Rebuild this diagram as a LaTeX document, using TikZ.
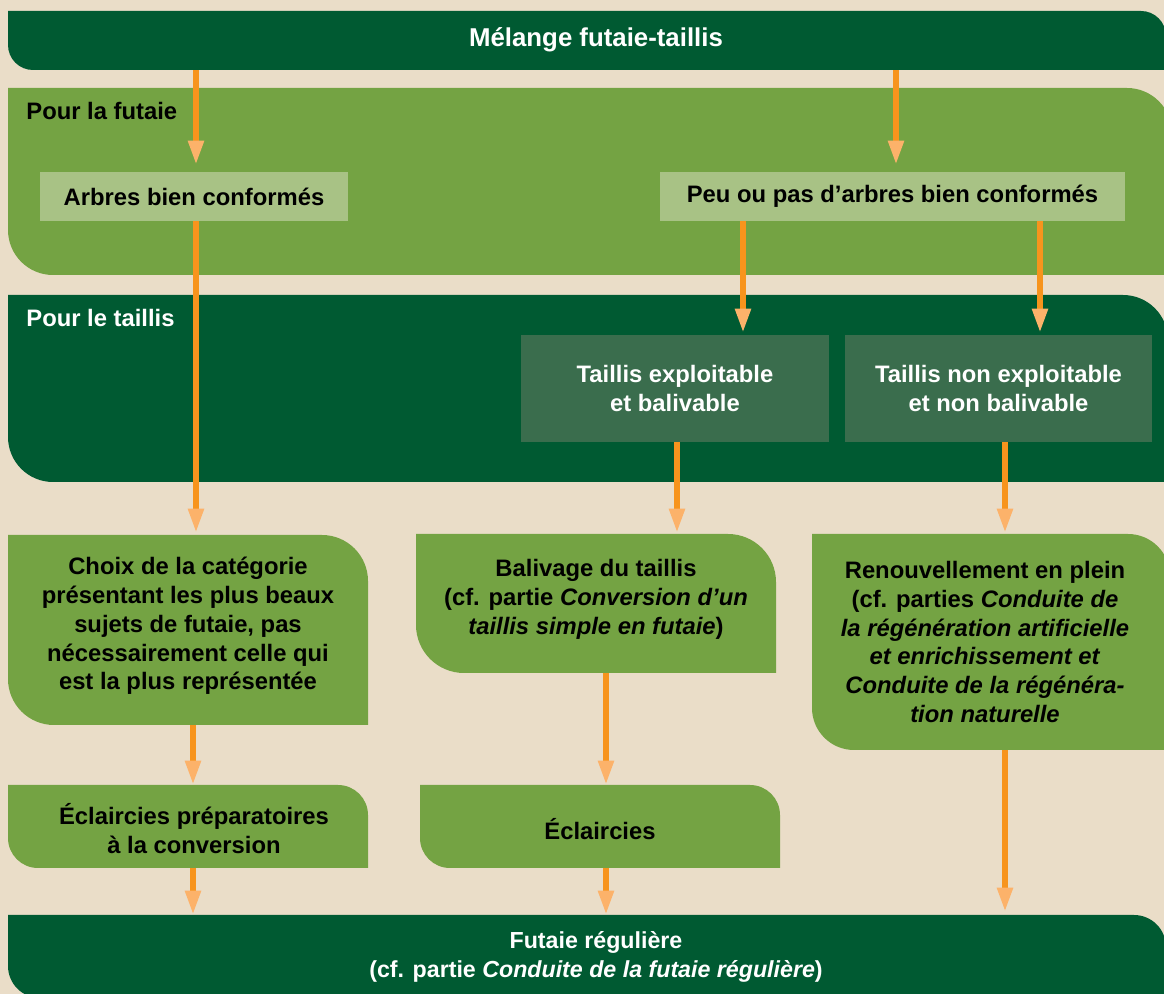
\documentclass[tikz,border=0pt]{standalone}
\usepackage{fontspec}
\setmainfont{Liberation Sans}
\usetikzlibrary{arrows.meta,fit}
\definecolor{bgc}{HTML}{EADDC8}
\definecolor{dkg}{HTML}{005A32}
\definecolor{mdg}{HTML}{74A343}
\definecolor{ltg}{HTML}{A8C285}
\definecolor{ing}{HTML}{3A6D4D}
\definecolor{org}{HTML}{F7941D}
\definecolor{orl}{HTML}{FCB26A}
\tikzset{
  cut/.style 2 args={inner sep=0pt, align=center, path picture={
    \fill[#1] (path picture bounding box.north west)
      -- ([xshift=-#2]path picture bounding box.north east)
      .. controls +(0.552*#2,0pt) and +(0pt,0.552*#2) .. ([yshift=-#2]path picture bounding box.north east)
      -- (path picture bounding box.south east)
      -- ([xshift=#2]path picture bounding box.south west)
      .. controls +(-0.552*#2,0pt) and +(0pt,-0.552*#2) .. ([yshift=#2]path picture bounding box.south west)
      -- cycle;}},
  plain/.style={inner sep=0pt, align=center, fill=#1},
  txt/.style={font=\bfseries\fontsize{11.9pt}{14.4pt}\selectfont},
  wt/.style={txt, text=white},
  bt/.style={txt, text=black},
  arr/.style={draw=org, line width=2.7pt, -{Triangle[length=12pt,width=7.5pt,color=orl]}},
}
\begin{document}
\begin{tikzpicture}[x=0.5pt,y=-0.5pt]
\useasboundingbox (0,0) rectangle (1164,994);
\clip (0,0) rectangle (1164,994);
\fill[bgc] (0,0) rectangle (1164,994);

% column coordinates for connectors
\coordinate (xA) at (196,0);
\coordinate (xB) at (896,0);
\coordinate (xC) at (743,0);
\coordinate (xD) at (1040,0);
\coordinate (xE) at (677,0);
\coordinate (xF) at (1005,0);
\coordinate (xG) at (193,0);
\coordinate (xH) at (606,0);

% top bar
\node[cut={dkg}{12.5pt}, fit={(8,11) (1166,70)}] (top) {};
\node[wt, font=\bfseries\fontsize{12.9pt}{15pt}\selectfont, inner sep=0pt] (toplbl) at (596,40) {Mélange futaie-taillis};

% panel futaie
\node[cut={mdg}{22.5pt}, fit={(8,88) (1172,275)}] (pfut) {};
\node[bt, inner sep=0pt, anchor=west] (pfutlbl) at (26,111) {Pour la futaie};
\node[plain=ltg, bt, fit={(40,172) (348,221)}] (arbres) {};
\node[bt] (arbreslbl) at (arbres.center) {Arbres bien conformés};
\node[plain=ltg, bt, fit={(660,172) (1125,221)}] (peu) {};
\node[bt] (peulbl) at (peu.center) {Peu ou pas d’arbres bien conformés};

% panel taillis
\node[cut={dkg}{22.5pt}, fit={(8,295) (1168,482)}] (ptai) {};
\node[wt, inner sep=0pt, anchor=west] (ptailbl) at (26,318) {Pour le taillis};
\node[plain=ing, fit={(521,335) (829,442)}] (expl) {};
\node[wt, align=center] (expllbl) at (expl.center) {Taillis exploitable\\et balivable};
\node[plain=ing, fit={(845,335) (1152,442)}] (nonexpl) {};
\node[wt, align=center] (nonexpllbl) at (nonexpl.center) {Taillis non exploitable\\et non balivable};

% third row
\node[cut={mdg}{23pt}, fit={(8,535) (368,725)}] (choix) {};
\node[bt, align=center] (choixlbl) at ([yshift=2pt]choix.center) {Choix de la catégorie\\présentant les plus beaux\\sujets de futaie, pas\\nécessairement celle qui\\est la plus représentée};
\node[cut={mdg}{24pt}, fit={(416,534) (776,673)}] (baliv) {};
\node[bt, align=center] (balivlbl) at ([yshift=2pt]baliv.center) {Balivage du taillis\\(cf. partie \textit{Conversion d’un}\\\textit{taillis simple en futaie})};
\node[cut={mdg}{21pt}, fit={(812,534) (1170,750)}] (renouv) {};
\node[bt, align=center] (renouvlbl) at ([xshift=-3pt]renouv.center) {Renouvellement en plein\\(cf. parties \textit{Conduite de}\\\textit{la régénération artificielle}\\\textit{et enrichissement et}\\\textit{Conduite de la régénéra-}\\\textit{tion naturelle}};

% fourth row
\node[cut={mdg}{15pt}, fit={(8,785) (368,868)}] (ecl1) {};
\node[bt, align=center] (ecl1lbl) at ([xshift=3pt,yshift=-1pt]ecl1.center) {Éclaircies préparatoires\\à la conversion};
\node[cut={mdg}{15pt}, fit={(420,785) (780,868)}] (ecl2) {};
\node[bt] (ecl2lbl) at ([yshift=-1.5pt]ecl2.center) {Éclaircies};

% bottom bar
\node[cut={dkg}{16pt}, fit={(8,915) (1166,998)}] (bottom) {};
\node[wt, font=\bfseries\fontsize{11.6pt}{14.4pt}\selectfont, align=center, inner sep=0pt] (bottomlbl) at (596,957) {Futaie régulière\\(cf. partie \textit{Conduite de la futaie régulière})};

% connectors
\draw[arr, shorten >=3.5pt] (top.south -| xA) -- (arbres.north -| xA);
\draw[arr, shorten >=3.5pt] (top.south -| xB) -- (peu.north -| xB);
\draw[arr, shorten >=1pt] (arbres.south -| xA) -- (choix.north -| xA);
\draw[arr, shorten >=1pt] (peu.south -| xC) -- (expl.north -| xC);
\draw[arr, shorten >=1pt] (peu.south -| xD) -- (nonexpl.north -| xD);
\draw[arr, shorten >=0.5pt] (expl.south -| xE) -- (baliv.north -| xE);
\draw[arr, shorten >=0.5pt] (nonexpl.south -| xF) -- (renouv.north -| xF);
\draw[arr] (choix.south -| xG) -- (ecl1.north -| xG);
\draw[arr] (baliv.south -| xH) -- (ecl2.north -| xH);
\draw[arr] (ecl1.south -| xG) -- (bottom.north -| xG);
\draw[arr] (ecl2.south -| xH) -- (bottom.north -| xH);
\draw[arr, shorten >=1.5pt] (renouv.south -| xF) -- (bottom.north -| xF);
\end{tikzpicture}
\end{document}
